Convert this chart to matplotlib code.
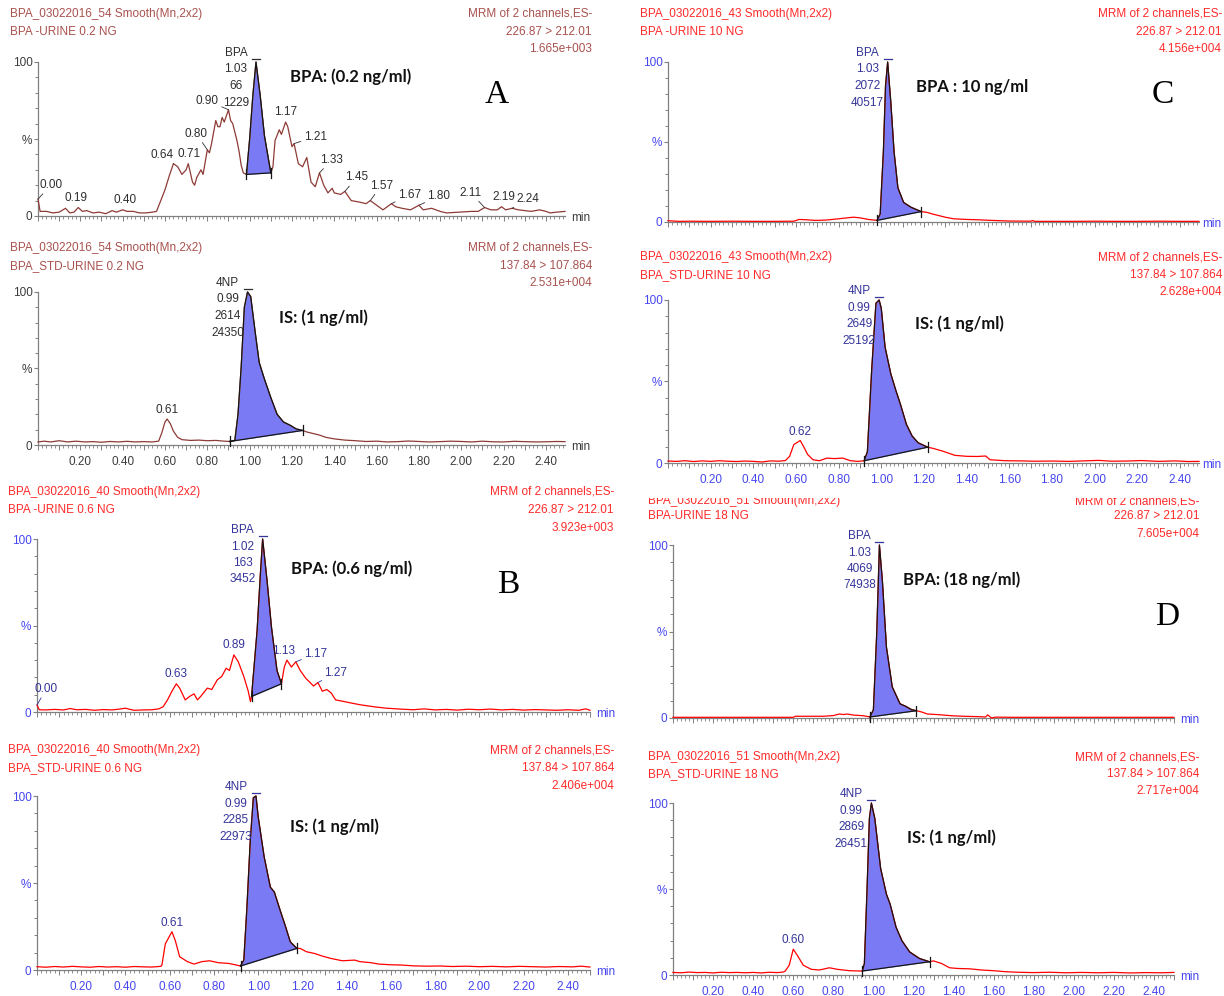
import matplotlib
matplotlib.use("Agg")
import matplotlib.pyplot as plt
from matplotlib.ticker import MultipleLocator, FuncFormatter
from matplotlib.transforms import Bbox
import numpy as np

plt.rcParams['font.family'] = ['Liberation Sans', 'DejaVu Sans']

W, H = 1224, 996

# ---------------- data: (retention time [min], relative intensity [%]) ----------------
a_bpa = [(0.00, 11), (0.01, 3), (0.04, 3), (0.07, 2), (0.10, 2.5), (0.13, 5), (0.15, 2), (0.17, 2.5),
         (0.19, 5.5), (0.21, 3), (0.23, 3.5), (0.26, 2), (0.29, 2.5), (0.32, 1.5), (0.35, 3.5), (0.37, 2.5),
         (0.40, 4), (0.42, 3), (0.45, 3), (0.48, 2), (0.51, 2), (0.54, 2.5), (0.56, 3), (0.58, 10),
         (0.60, 17), (0.62, 26), (0.64, 34), (0.66, 32), (0.68, 27), (0.70, 30), (0.71, 34), (0.73, 22),
         (0.74, 20), (0.75, 25), (0.77, 30), (0.78, 27), (0.80, 43), (0.81, 41), (0.82, 47), (0.84, 62),
         (0.85, 58), (0.86, 58), (0.87, 64), (0.88, 61), (0.90, 69), (0.91, 62), (0.92, 60), (0.94, 49),
         (0.95, 42), (0.96, 33), (0.97, 28), (0.985, 27), (1.00, 50), (1.015, 78), (1.03, 100), (1.05, 78),
         (1.07, 52), (1.09, 36), (1.10, 28), (1.11, 32), (1.12, 49), (1.14, 56), (1.15, 53), (1.17, 61),
         (1.18, 58), (1.20, 45), (1.21, 47), (1.23, 34), (1.25, 32), (1.27, 38), (1.29, 22), (1.31, 19),
         (1.33, 28), (1.35, 20), (1.37, 15), (1.39, 18), (1.40, 15), (1.43, 14), (1.45, 16), (1.48, 10),
         (1.52, 9), (1.55, 8), (1.57, 10), (1.60, 7), (1.63, 4), (1.67, 8), (1.69, 6), (1.72, 5),
         (1.76, 4), (1.80, 7), (1.82, 4), (1.86, 5), (1.90, 3), (1.93, 2), (1.99, 2.5), (2.05, 3),
         (2.08, 3), (2.11, 5.5), (2.14, 4), (2.17, 4), (2.19, 6), (2.21, 4), (2.24, 5), (2.27, 4),
         (2.30, 3.5), (2.33, 3), (2.37, 4), (2.40, 3), (2.42, 2), (2.45, 2.5), (2.49, 3)]
a_is = [(0.00, 2), (0.03, 2.5), (0.06, 2), (0.10, 2.8), (0.14, 2), (0.18, 2.5), (0.22, 2), (0.26, 2.2),
        (0.30, 1.8), (0.34, 2.3), (0.38, 2), (0.42, 2.4), (0.46, 2), (0.50, 2.2), (0.54, 2), (0.57, 2.5),
        (0.585, 8), (0.60, 15), (0.61, 17), (0.625, 14), (0.64, 9), (0.66, 5), (0.68, 3.5), (0.72, 3),
        (0.76, 3.2), (0.80, 2.8), (0.84, 3), (0.88, 2.5), (0.905, 2.3), (0.93, 3), (0.945, 20), (0.96, 51),
        (0.975, 90), (0.99, 100), (1.005, 97), (1.025, 75), (1.045, 54), (1.07, 43), (1.10, 31), (1.13, 20),
        (1.16, 15), (1.19, 13), (1.22, 10.5), (1.25, 9.5), (1.27, 8.5), (1.30, 7.5), (1.33, 6.5), (1.36, 5),
        (1.40, 4), (1.45, 3.2), (1.50, 2.8), (1.55, 2.3), (1.60, 2.5), (1.65, 2), (1.70, 2.2), (1.75, 2.6),
        (1.80, 2.3), (1.85, 2), (1.90, 2.2), (1.95, 2.5), (2.00, 2.3), (2.05, 2), (2.10, 2.5), (2.15, 2.1),
        (2.20, 2), (2.25, 2.4), (2.30, 2.2), (2.35, 2), (2.40, 2.1), (2.45, 2.3), (2.49, 2.2)]
b_bpa = [(0.00, 4), (0.01, 1.3), (0.04, 1.2), (0.08, 1.5), (0.12, 1.2), (0.15, 2), (0.18, 1.3), (0.22, 1.5),
         (0.26, 1), (0.30, 1.4), (0.34, 1.2), (0.38, 1.8), (0.40, 2.2), (0.42, 1.5), (0.44, 1), (0.48, 1.2),
         (0.52, 1.3), (0.55, 1.8), (0.57, 3), (0.59, 7), (0.61, 12), (0.63, 16.3), (0.645, 13.8), (0.67, 7),
         (0.69, 9), (0.71, 10.5), (0.725, 7), (0.74, 9), (0.77, 13.8), (0.79, 13), (0.815, 18.6), (0.835, 20.5),
         (0.855, 25.3), (0.87, 24), (0.89, 33), (0.91, 29), (0.935, 20.5), (0.955, 12), (0.965, 6), (0.97, 9),
         (0.995, 47), (1.01, 80), (1.02, 100), (1.04, 76), (1.06, 49), (1.085, 24), (1.105, 16.3), (1.118, 26),
         (1.13, 30), (1.15, 26), (1.17, 29), (1.19, 24), (1.215, 19.5), (1.235, 17), (1.25, 15), (1.27, 17),
         (1.29, 12), (1.31, 13), (1.33, 11), (1.35, 7), (1.39, 6), (1.42, 5.2), (1.46, 4.2), (1.53, 2.9),
         (1.58, 2.2), (1.64, 1.7), (1.70, 1.3), (1.75, 1.8), (1.80, 1.2), (1.85, 1.5), (1.90, 1.1), (1.95, 1.6),
         (2.00, 1.3), (2.05, 1.7), (2.10, 1.2), (2.15, 1.5), (2.20, 1.1), (2.25, 1.4), (2.30, 1.2), (2.35, 1),
         (2.40, 1.3), (2.45, 1.0), (2.48, 1.8), (2.50, 1)]
b_is = [(0.00, 1.9), (0.04, 1.6), (0.08, 2), (0.12, 1.7), (0.16, 2.1), (0.20, 1.8), (0.24, 1.6), (0.28, 2),
        (0.32, 1.7), (0.36, 1.9), (0.40, 1.6), (0.44, 2), (0.48, 1.8), (0.52, 1.7), (0.56, 2.1), (0.565, 3),
        (0.58, 15), (0.61, 22), (0.625, 17), (0.645, 7.6), (0.68, 4.8), (0.71, 3.4), (0.745, 4.8), (0.78, 5.3),
        (0.82, 4.2), (0.865, 3.8), (0.90, 2.9), (0.92, 2.3), (0.935, 5.7), (0.949, 36), (0.964, 74), (0.978, 99),
        (0.99, 100), (1.00, 88), (1.027, 65), (1.055, 47.6), (1.073, 44.8), (1.10, 34), (1.124, 24.8),
        (1.145, 16.2), (1.175, 12.4), (1.19, 12.4), (1.218, 10.5), (1.255, 9.5), (1.29, 8), (1.327, 6.7),
        (1.38, 5.3), (1.436, 5.7), (1.46, 4.8), (1.51, 4.2), (1.545, 3.4), (1.60, 3), (1.64, 2.9), (1.70, 2.4),
        (1.76, 2.2), (1.82, 2.3), (1.88, 2), (1.94, 2.2), (2.00, 1.9), (2.06, 2.1), (2.12, 1.8), (2.18, 2.1),
        (2.24, 1.9), (2.30, 1.7), (2.36, 2), (2.42, 1.8), (2.46, 2.2), (2.50, 1.7)]
c_bpa = [(0.00, 0.8), (0.05, 0.4), (0.10, 0.5), (0.20, 0.4), (0.30, 0.5), (0.40, 0.4), (0.50, 0.4), (0.59, 0.5),
         (0.615, 1.6), (0.65, 1.4), (0.69, 1), (0.74, 1.2), (0.80, 2), (0.84, 2.6), (0.87, 3), (0.90, 2.6),
         (0.94, 1.6), (0.98, 1), (0.995, 5), (1.01, 44), (1.02, 85), (1.03, 100), (1.045, 74.5), (1.06, 44),
         (1.078, 21.4), (1.105, 12.2), (1.14, 9.2), (1.187, 6.5), (1.215, 6), (1.24, 5), (1.27, 4), (1.30, 3),
         (1.34, 2), (1.40, 1.6), (1.45, 1.4), (1.52, 1), (1.60, 0.6), (1.70, 0.5), (1.71, 0.9), (1.72, 0.4),
         (1.80, 0.4), (1.90, 0.4), (2.00, 0.5), (2.10, 0.4), (2.20, 0.4), (2.30, 0.5), (2.40, 0.4), (2.49, 0.4)]
c_is = [(0.00, 1.2), (0.04, 1), (0.08, 1.4), (0.12, 0.9), (0.16, 1.3), (0.20, 1), (0.24, 1.4), (0.28, 1.1),
        (0.32, 0.9), (0.36, 1.2), (0.40, 1), (0.44, 0.6), (0.48, 1.3), (0.52, 1.1), (0.55, 1.5), (0.57, 4),
        (0.59, 11.3), (0.62, 13.8), (0.635, 10.3), (0.655, 5.2), (0.68, 2), (0.71, 1.4), (0.745, 3), (0.78, 2.7),
        (0.82, 3), (0.855, 1.4), (0.89, 1), (0.92, 1.4), (0.935, 7), (0.955, 56.7), (0.975, 98), (0.99, 100),
        (1.00, 95), (1.018, 71), (1.045, 54.6), (1.069, 44.3), (1.09, 36), (1.118, 23.7), (1.145, 16.5),
        (1.173, 12.4), (1.218, 9.7), (1.245, 8.9), (1.29, 7.2), (1.345, 4.7), (1.40, 4.1), (1.45, 4),
        (1.49, 4.3), (1.51, 2), (1.58, 1.4), (1.65, 1.3), (1.72, 1.1), (1.80, 1.2), (1.88, 1), (1.95, 1.3),
        (2.02, 1.6), (2.08, 1.1), (2.15, 1.2), (2.22, 1.5), (2.30, 1), (2.38, 1.3), (2.44, 0.9), (2.49, 1)]
d_bpa = [(0.00, 0.4), (0.10, 0.4), (0.20, 0.4), (0.30, 0.4), (0.40, 0.4), (0.50, 0.4), (0.60, 0.4), (0.61, 1),
         (0.70, 1), (0.75, 1), (0.80, 1.4), (0.83, 2.3), (0.85, 2), (0.87, 2.3), (0.90, 1.7), (0.95, 1.3),
         (0.983, 0.6), (1.00, 4.8), (1.017, 50), (1.03, 100), (1.045, 79), (1.065, 41), (1.094, 18),
         (1.133, 8.2), (1.162, 6.7), (1.191, 4.8), (1.215, 4.2), (1.24, 3.5), (1.27, 2.3), (1.33, 1.9),
         (1.39, 1.3), (1.45, 1), (1.52, 0.8), (1.56, 0.6), (1.57, 1.8), (1.59, 0), (1.61, 0.5), (1.70, 0.4),
         (1.80, 0.4), (1.90, 0.4), (2.00, 0.4), (2.10, 0.4), (2.20, 0.4), (2.30, 0.4), (2.40, 0.4), (2.50, 0.4)]
d_is = [(0.00, 1.5), (0.04, 1.3), (0.08, 1.7), (0.12, 1.4), (0.16, 1.5), (0.20, 1.2), (0.24, 1.6), (0.28, 1.4),
        (0.32, 1.5), (0.36, 1.3), (0.40, 1.5), (0.44, 1.2), (0.48, 1.6), (0.52, 1.4), (0.55, 1.7), (0.56, 2.3),
        (0.58, 5.7), (0.60, 15), (0.62, 11.5), (0.65, 5.7), (0.69, 3.3), (0.73, 2.9), (0.78, 4.2), (0.82, 3.3),
        (0.88, 2.5), (0.945, 2.3), (0.955, 6.7), (0.968, 49), (0.98, 91), (0.99, 100), (1.007, 91), (1.036, 62),
        (1.065, 47), (1.084, 41), (1.113, 27.8), (1.142, 20), (1.181, 13.4), (1.23, 9.6), (1.28, 7.7),
        (1.30, 8.2), (1.34, 6.7), (1.38, 4.2), (1.42, 3.8), (1.48, 3.6), (1.54, 2.9), (1.60, 2.5), (1.66, 1.9),
        (1.72, 1.6), (1.80, 1.4), (1.88, 1.6), (1.96, 1.3), (2.04, 1.5), (2.12, 1.3), (2.20, 1.5), (2.28, 1.2),
        (2.36, 1.4), (2.44, 1.3), (2.50, 1.5)]

# peak tables: name, retention time, height, area
a_bpa_peak = ("BPA", "1.03", "66", "1229")
a_is_peak = ("4NP", "0.99", "2614", "24350")
b_bpa_peak = ("BPA", "1.02", "163", "3452")
b_is_peak = ("4NP", "0.99", "2285", "22973")
c_bpa_peak = ("BPA", "1.03", "2072", "40517")
c_is_peak = ("4NP", "0.99", "2649", "25192")
d_bpa_peak = ("BPA", "1.03", "4069", "74938")
d_is_peak = ("4NP", "0.99", "2869", "26451")

# integration windows (min)
a_bpa_int = (0.985, 1.10)
a_is_int = (0.905, 1.25)
b_bpa_int = (0.97, 1.105)
b_is_int = (0.92, 1.175)
c_bpa_int = (0.98, 1.187)
c_is_int = (0.92, 1.218)
d_bpa_int = (0.983, 1.215)
d_is_int = (0.945, 1.28)

# labelled minor peaks
a_bpa_minor = ["0.00", "0.19", "0.40", "0.64", "0.71", "0.80", "0.90", "1.17", "1.21", "1.33",
               "1.45", "1.57", "1.67", "1.80", "2.11", "2.19", "2.24"]
a_is_minor = ["0.61"]
b_bpa_minor = ["0.00", "0.63", "0.89", "1.13", "1.17", "1.27"]
b_is_minor = ["0.61"]
c_bpa_minor = []
c_is_minor = ["0.62"]
d_bpa_minor = []
d_is_minor = ["0.60"]

# header texts
a_bpa_head = ("BPA_03022016_54 Smooth(Mn,2x2)", "BPA -URINE 0.2 NG", "MRM of 2 channels,ES-", "226.87 > 212.01", "1.665e+003")
a_is_head = ("BPA_03022016_54 Smooth(Mn,2x2)", "BPA_STD-URINE 0.2 NG", "MRM of 2 channels,ES-", "137.84 > 107.864", "2.531e+004")
b_bpa_head = ("BPA_03022016_40 Smooth(Mn,2x2)", "BPA -URINE 0.6 NG", "MRM of 2 channels,ES-", "226.87 > 212.01", "3.923e+003")
b_is_head = ("BPA_03022016_40 Smooth(Mn,2x2)", "BPA_STD-URINE 0.6 NG", "MRM of 2 channels,ES-", "137.84 > 107.864", "2.406e+004")
c_bpa_head = ("BPA_03022016_43 Smooth(Mn,2x2)", "BPA -URINE 10 NG", "MRM of 2 channels,ES-", "226.87 > 212.01", "4.156e+004")
c_is_head = ("BPA_03022016_43 Smooth(Mn,2x2)", "BPA_STD-URINE 10 NG", "MRM of 2 channels,ES-", "137.84 > 107.864", "2.628e+004")
d_bpa_head = ("BPA_03022016_51 Smooth(Mn,2x2)", "BPA-URINE 18 NG", "MRM of 2 channels,ES-", "226.87 > 212.01", "7.605e+004")
d_is_head = ("BPA_03022016_51 Smooth(Mn,2x2)", "BPA_STD-URINE 18 NG", "MRM of 2 channels,ES-", "137.84 > 107.864", "2.717e+004")

notes = ["BPA: (0.2 ng/ml)", "IS: (1 ng/ml)", "BPA: (0.6 ng/ml)", "IS: (1 ng/ml)",
         "BPA : 10 ng/ml", "IS: (1 ng/ml)", "BPA: (18 ng/ml)", "IS: (1 ng/ml)"]
letters = ["A", "B", "C", "D"]

# ---------------- styles ----------------
STY_A = dict(head='#a8524e', curve='#8e3b36', axis='#3c3c3c', lab='#2e2e2e')
STY_R = dict(head='#ff2a2a', curve='#ff0000', axis='#4646f0', lab='#34349a')
FILL = '#7a7af5'
GRAY = '#808080'

fig = plt.figure(figsize=(W / 100, H / 100), dpi=100)


def ftext(x, y, s, **kw):
    return fig.text(x / W, 1 - y / H, s, **kw)


def panel(pts, peak, integ, minor, head, note, L):
    l, r, tp, bt = L['rect']
    xmax = L['xmax']
    sty = L['sty']
    ax = fig.add_axes([l / W, 1 - bt / H, (r - l) / W, (bt - tp) / H])
    ax.patch.set_alpha(0)
    ppx = (r - l) / xmax
    ppy = (bt - tp) / 100.0
    t = np.array([p[0] for p in pts])
    y = np.array([p[1] for p in pts])
    ax.plot(t, y, color=sty['curve'], lw=0.9, zorder=3, clip_on=False)
    ax.set_xlim(0, xmax)
    ax.set_ylim(0, 100)

    # integrated peak
    t0, t1 = integ
    y0 = np.interp(t0, t, y)
    y1 = np.interp(t1, t, y)
    m = (t > t0) & (t < t1)
    tt = np.concatenate([[t0], t[m], [t1]])
    yy = np.concatenate([[y0], y[m], [y1]])
    base = np.interp(tt, [t0, t1], [y0, y1])
    ax.fill_between(tt, base, yy, color=FILL, lw=0, zorder=2, clip_on=False)
    ax.plot(tt, yy, color='#151515', lw=0.9, zorder=4, clip_on=False)
    ax.plot([t0, t1], [y0, y1], color='#151515', lw=0.9, zorder=4, clip_on=False)
    for tx, ty in [(t0, y0), (t1, y1)]:
        ax.plot([tx, tx], [ty - 5 / ppy, ty + 5 / ppy], color='#151515', lw=0.9, zorder=4, clip_on=False)

    # spines / ticks
    for s in ['top', 'right']:
        ax.spines[s].set_visible(False)
    for s in ['left', 'bottom']:
        ax.spines[s].set_color(GRAY)
        ax.spines[s].set_linewidth(0.9)
    ax.set_yticks([0, 50, 100])
    ax.set_yticklabels(['0', '%', '100'])
    ax.yaxis.set_minor_locator(MultipleLocator(10))
    ax.tick_params(axis='y', which='major', length=3, width=0.8, color=GRAY, labelcolor=sty['axis'],
                   labelsize=8.5, pad=1)
    ax.tick_params(axis='y', which='minor', length=2, width=0.7, color=GRAY)
    ax.xaxis.set_major_locator(MultipleLocator(0.1))
    ax.xaxis.set_minor_locator(MultipleLocator(0.02))
    show = L['xlab']

    def fmt(v, p):
        k = int(round(v * 10))
        if show and k % 2 == 0 and 0.1 < v < 2.45:
            return f"{v:.2f}"
        return ""
    ax.xaxis.set_major_formatter(FuncFormatter(fmt))
    ax.tick_params(axis='x', which='major', length=3.6, width=0.7, color=GRAY, labelcolor=sty['axis'],
                   labelsize=8.5, pad=4.5)
    ax.tick_params(axis='x', which='minor', length=2.2, width=0.6, color=GRAY)

    # peak stack label
    rt = float(peak[1])
    apx = l + rt * ppx
    for i, s in enumerate(peak):
        ftext(apx - 20, tp - 9 + 16.5 * i, s, ha='center', va='center', fontsize=8.5, color=sty['lab'])
    ax.plot([rt - 4 / ppx, rt + 4 / ppx], [100 + 3 / ppy] * 2, color=sty['lab'], lw=0.9, clip_on=False)

    # minor peak labels
    for s, (dx, dy, lead) in zip(minor, L['offs']):
        rv = float(s)
        yv = np.interp(rv, t, y)
        ap = dict(arrowstyle='-', color=sty['lab'], lw=0.6, shrinkA=0, shrinkB=0) if lead else None
        ax.annotate(s, (rv, yv), xytext=(dx * 0.72, -dy * 0.72), textcoords='offset points',
                    ha='center', va='center', fontsize=8.5, color=sty['lab'], arrowprops=ap,
                    annotation_clip=False)

    # headers
    hx0, hx1 = L['hx']
    hy = L['hy']
    clip = L.get('clip')
    for i, s in enumerate(head):
        if i < 2:
            tx = ftext(hx0, hy[i], s, ha='left', va='center', fontsize=8.5, color=sty['head'])
        else:
            tx = ftext(hx1, hy[i - 2], s, ha='right', va='center', fontsize=8.5, color=sty['head'])
        if clip is not None and i in (0, 2):
            tx.set_clip_box(Bbox([[0, 0], [W, H - clip]]))
            tx.set_clip_on(True)
    ftext(min(r + 16, W - 12), bt + 2, 'min', ha='center', va='center', fontsize=8.5, color=sty['axis'])

    # annotation
    nx, ny = L['note']
    ftext(nx, ny, note, ha='center', va='center', fontsize=12, fontweight='bold', color='#111111',
          family=['Lato', 'DejaVu Sans'])
    return ax


OFF_A = [(13, -14, True), (-2, -10, False), (2, -10, False), (-11, -9, True), (1, -10, False),
         (-11, -16, True), (-21, -9, True), (0, -10, False), (21, -7, True), (12, -13, True),
         (12, -14, True), (11, -15, True), (18, -9, True), (20, -9, True), (-14, -15, True),
         (2, -10, False), (16, -9, True)]
OFF_B = [(9, -16, True), (0, -10, False), (0, -10, False), (-3, -9, False), (20, -8, True), (18, -10, True)]
OFF_IS = [(0, -9, False)]

panel(a_bpa, a_bpa_peak, a_bpa_int, a_bpa_minor, a_bpa_head, notes[0],
      dict(rect=(38, 565, 62, 216), xmax=2.49, sty=STY_A, xlab=False, offs=OFF_A,
           hx=(10, 592), hy=(14, 32, 49), note=(351, 77)))
panel(a_is, a_is_peak, a_is_int, a_is_minor, a_is_head, notes[1],
      dict(rect=(38, 565, 292, 445), xmax=2.49, sty=STY_A, xlab=True, offs=OFF_IS,
           hx=(10, 592), hy=(248, 266, 283), note=(323, 318)))
panel(b_bpa, b_bpa_peak, b_bpa_int, b_bpa_minor, b_bpa_head, notes[2],
      dict(rect=(37, 590, 539, 712), xmax=2.5, sty=STY_R, xlab=False, offs=OFF_B,
           hx=(8, 614), hy=(492, 510, 528), note=(352, 569)))
panel(b_is, b_is_peak, b_is_int, b_is_minor, b_is_head, notes[3],
      dict(rect=(37, 590, 796, 970), xmax=2.5, sty=STY_R, xlab=True, offs=OFF_IS,
           hx=(8, 614), hy=(750, 768, 786), note=(334, 827)))
panel(c_bpa, c_bpa_peak, c_bpa_int, c_bpa_minor, c_bpa_head, notes[4],
      dict(rect=(668, 1199, 62, 222), xmax=2.49, sty=STY_R, xlab=False, offs=[],
           hx=(640, 1222), hy=(14, 32, 49), note=(972, 87)))
panel(c_is, c_is_peak, c_is_int, c_is_minor, c_is_head, notes[5],
      dict(rect=(668, 1199, 300, 463), xmax=2.49, sty=STY_R, xlab=True, offs=OFF_IS,
           hx=(640, 1222), hy=(257, 275, 292), note=(959, 324)))
panel(d_bpa, d_bpa_peak, d_bpa_int, d_bpa_minor, d_bpa_head, notes[6],
      dict(rect=(673, 1174, 545, 718), xmax=2.5, sty=STY_R, xlab=False, offs=[],
           hx=(648, 1199), hy=(501, 516, 534), note=(962, 580), clip=498))
panel(d_is, d_is_peak, d_is_int, d_is_minor, d_is_head, notes[7],
      dict(rect=(673, 1174, 803, 975), xmax=2.5, sty=STY_R, xlab=True, offs=OFF_IS,
           hx=(648, 1199), hy=(757, 774, 791), note=(951, 838)))

for s, (x, yv) in zip(letters, [(497, 95), (508, 585), (1163, 95), (1167, 617)]):
    ftext(x, yv, s, ha='center', va='center', fontsize=24, color='black', family=['Liberation Serif'])

fig.savefig('out.png', dpi=100)
